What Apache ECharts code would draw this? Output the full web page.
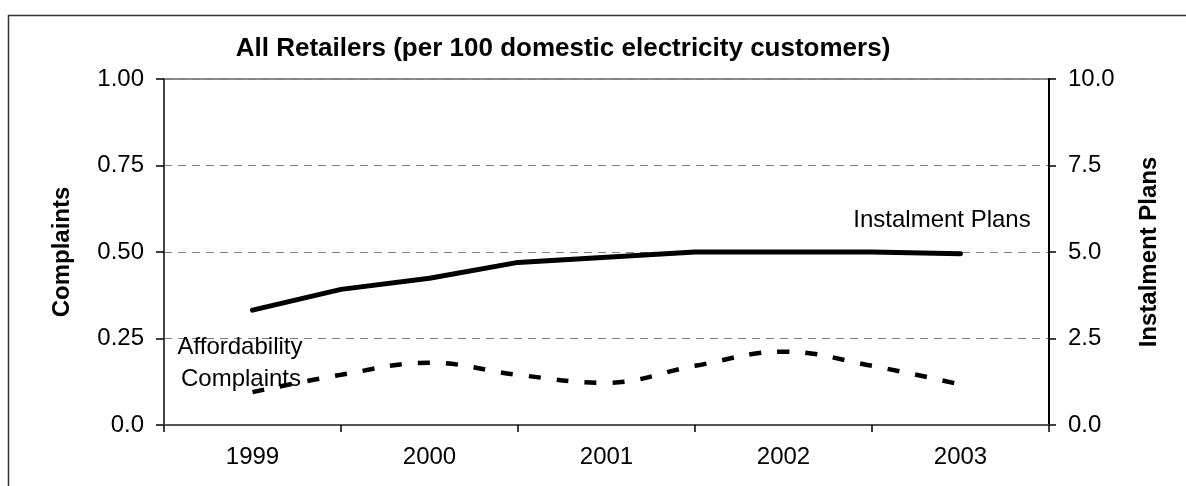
<!DOCTYPE html>
<html>
<head>
<meta charset="utf-8">
<script src="https://cdn.jsdelivr.net/npm/echarts@6/dist/echarts.min.js"></script>
<style>
  html, body { margin: 0; padding: 0; background: #fff; }
  #chart { width: 1186px; height: 486px; }
</style>
</head>
<body>
<div id="chart"></div>
<script>
// Year labels along the bottom axis
const years = ['1999', '2000', '2001', '2002', '2003'];
// Half-yearly readings, starting at 1999 and ending at 2003
const instalmentPlans = [3.32, 3.92, 4.24, 4.70, 4.85, 5.00, 5.00, 5.00, 4.95];
const affordabilityComplaints = [0.095, 0.145, 0.180, 0.145, 0.122, 0.171, 0.212, 0.171, 0.117];
// Axis ranges and tick steps
const complaintsAxis = { min: 0, max: 1, step: 0.25 };
const plansAxis = { min: 0, max: 10, step: 2.5 };

// Category slots: a boundary slot before each year and a mid-year slot after it,
// so year labels sit in the middle of each span and ticks sit on the boundaries.
const slots = [''];
years.forEach(y => { slots.push(y); slots.push(''); });
const pad = arr => [null, ...arr, null];

const FONT = '"Liberation Sans", Arial, sans-serif';

const chart = echarts.init(document.getElementById('chart'), null, { renderer: 'canvas' });
chart.setOption({
  animation: false,
  backgroundColor: '#ffffff',
  title: {
    text: 'All Retailers (per 100 domestic electricity customers)',
    left: 558, top: 31, textAlign: 'center',
    textStyle: { fontFamily: FONT, fontSize: 26, fontWeight: 'bold', color: '#000' }
  },
  grid: {
    left: 164, right: 137, top: 79, bottom: 61,
    show: true, borderColor: '#8c8c8c', borderWidth: 2, backgroundColor: 'transparent'
  },
  xAxis: {
    type: 'category',
    data: slots,
    boundaryGap: false,
    axisLine: { lineStyle: { color: '#555', width: 2 } },
    axisTick: { show: true, length: 7, interval: i => i % 2 === 0, lineStyle: { color: '#000', width: 1.5 } },
    axisLabel: { interval: i => i % 2 === 1, margin: 20, fontFamily: FONT, fontSize: 24, color: '#000' },
    splitLine: { show: false }
  },
  yAxis: [
    {
      type: 'value',
      position: 'left',
      min: complaintsAxis.min, max: complaintsAxis.max, interval: complaintsAxis.step,
      name: 'Complaints', nameLocation: 'middle', nameRotate: 90, nameGap: 90,
      nameTextStyle: { fontFamily: FONT, fontSize: 24, fontWeight: 'bold', color: '#000' },
      axisLine: { show: true, lineStyle: { color: '#444', width: 2 } },
      axisTick: { show: true, length: 8, lineStyle: { color: '#000', width: 1.5 } },
      axisLabel: {
        margin: 20, fontFamily: FONT, fontSize: 24, color: '#000',
        formatter: v => v === 0 ? '0.0' : v.toFixed(2)
      },
      splitLine: { show: true, lineStyle: { color: '#808080', width: 1, type: [8, 6] } }
    },
    {
      type: 'value',
      position: 'right',
      min: plansAxis.min, max: plansAxis.max, interval: plansAxis.step,
      name: 'Instalment Plans', nameLocation: 'middle', nameRotate: 90, nameGap: 88,
      nameTextStyle: { fontFamily: FONT, fontSize: 24, fontWeight: 'bold', color: '#000' },
      axisLine: { show: true, lineStyle: { color: '#000', width: 2 } },
      axisTick: { show: true, length: 7, lineStyle: { color: '#000', width: 1.5 } },
      axisLabel: {
        margin: 19, fontFamily: FONT, fontSize: 24, color: '#000',
        formatter: v => v.toFixed(1)
      },
      splitLine: { show: false }
    }
  ],
  series: [
    {
      name: 'Affordability Complaints',
      type: 'line',
      yAxisIndex: 0,
      data: pad(affordabilityComplaints),
      smooth: 0.4,
      showSymbol: false,
      lineStyle: { color: '#000', width: 4.5, type: [12, 16], cap: 'butt' }
    },
    {
      name: 'Instalment Plans',
      type: 'line',
      yAxisIndex: 1,
      data: pad(instalmentPlans),
      showSymbol: false,
      lineStyle: { color: '#000', width: 5, cap: 'round', join: 'round' }
    }
  ],
  graphic: [
    {
      type: 'rect', silent: true, z: 0,
      shape: { x: 8.5, y: 15.5, width: 1200, height: 500 },
      style: { fill: 'none', stroke: '#333', lineWidth: 1.5 }
    },
    {
      type: 'text', z: 100, x: 942, y: 220,
      style: { text: 'Instalment Plans', fill: '#000', font: '24px ' + FONT, textAlign: 'center', textVerticalAlign: 'middle' }
    },
    {
      type: 'text', z: 100, x: 240, y: 347,
      style: { text: 'Affordability', fill: '#000', font: '24px ' + FONT, textAlign: 'center', textVerticalAlign: 'middle' }
    },
    {
      type: 'text', z: 100, x: 241, y: 379,
      style: { text: 'Complaints', fill: '#000', font: '24px ' + FONT, textAlign: 'center', textVerticalAlign: 'middle' }
    }
  ]
});
</script>
</body>
</html>
